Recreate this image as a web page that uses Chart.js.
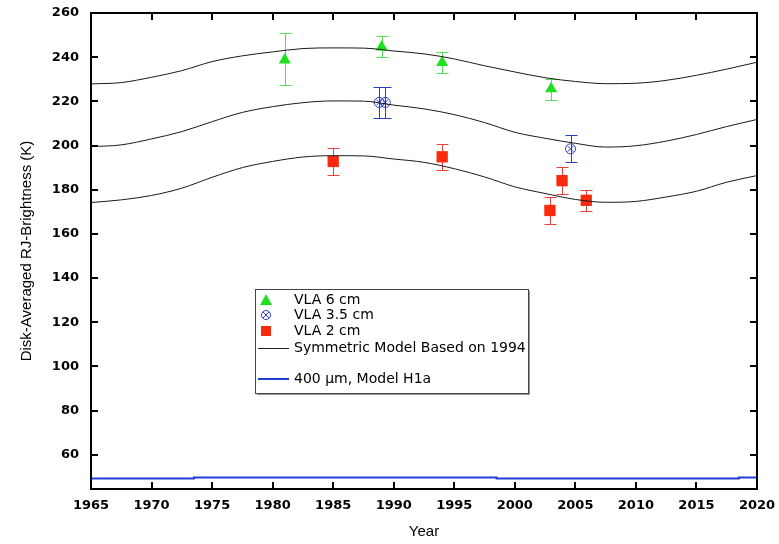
<!DOCTYPE html>
<html lang="en">
<head>
<meta charset="UTF-8">
<title>Disk-Averaged RJ-Brightness</title>
<script src="https://cdn.jsdelivr.net/npm/chart.js"></script>
<style>
  html, body { margin: 0; padding: 0; background: #fff; }
</style>
</head>
<body>
<canvas id="tbChart" width="779" height="544"></canvas>
<script>
// ---- data ----
const xTicks = [1965, 1970, 1975, 1980, 1985, 1990, 1995, 2000, 2005, 2010, 2015, 2020];
const yTicks = [60, 80, 100, 120, 140, 160, 180, 200, 220, 240, 260];

const modelYears = [1965, 1967.5, 1970, 1972.5, 1975, 1977.5, 1980, 1982.5, 1985, 1987.5, 1990, 1992.5,
                    1995, 1997.5, 2000, 2002.5, 2005, 2007.5, 2010, 2012.5, 2015, 2017.5, 2020];
const model6cm  = [227.9, 228.5, 230.9, 233.9, 238.0, 240.6, 242.4, 243.9, 244.2, 244.1, 242.8, 241.5,
                   239.2, 236.1, 233.3, 230.7, 229.0, 228.0, 228.2, 229.5, 231.8, 234.6, 237.7];
const model35cm = [199.5, 200.3, 203.0, 206.3, 210.8, 215.0, 217.6, 219.4, 220.2, 220.1, 218.3, 216.6,
                   214.0, 210.4, 206.0, 203.3, 201.0, 199.3, 199.9, 202.0, 205.0, 208.6, 211.8];
const model2cm  = [174.2, 175.4, 177.4, 180.7, 185.6, 190.0, 192.8, 194.8, 195.4, 195.3, 193.9, 192.4,
                   189.5, 185.8, 181.3, 178.3, 175.6, 174.3, 174.7, 176.7, 179.3, 183.4, 186.4];

const h1aYears  = [1965, 1973.5, 1973.5, 1998.5, 1998.5, 2018.5, 2018.5, 2020];
const h1aValues = [49.2, 49.2, 49.7, 49.7, 49.2, 49.2, 49.7, 49.7];

const vla6Years = [1981, 1989, 1994, 2003];
const vla6Vals  = [238.7, 244.6, 237.6, 225.7];
const vla6Lo    = [227.2, 239.9, 232.8, 220.8];
const vla6Hi    = [250.8, 249.4, 242.3, 230.2];

const vla35Years = [1988.8, 1989.3, 2004.6];
const vla35Vals  = [219.5, 219.5, 198.5];
const vla35Lo    = [212.5, 212.5, 192.5];
const vla35Hi    = [226.3, 226.3, 204.6];

const vla2Years = [1985, 1994, 2002.9, 2003.9, 2005.9];
const vla2Vals  = [192.8, 194.9, 170.6, 184.1, 175.2];
const vla2Lo    = [186.7, 188.8, 164.5, 178.1, 170.4];
const vla2Hi    = [198.8, 200.9, 176.6, 190.1, 179.9];

const GREEN = '#1fe01f', GREEN_BAR = '#55dd55';
const BLUE = '#2b3cc8';
const RED = '#fa2a0c', RED_BAR = '#e8403a';
const H1A = '#1f3fd8';

const pts = (xs, ys) => xs.map((x, i) => ({ x: x, y: ys[i] }));

const errorSets = [
  { years: vla6Years, lo: vla6Lo, hi: vla6Hi, color: GREEN_BAR },
  { years: vla35Years, lo: vla35Lo, hi: vla35Hi, color: BLUE },
  { years: vla2Years, lo: vla2Lo, hi: vla2Hi, color: RED_BAR }
];

const modelLine = (data) => ({
  type: 'line', data: data, borderColor: '#1a1a1a', borderWidth: 1,
  pointRadius: 0, cubicInterpolationMode: 'monotone', fill: false
});

const extras = {
  id: 'extras',
  beforeDatasetsDraw(chart) {
    const ctx = chart.ctx, xs = chart.scales.x, ys = chart.scales.y;
    errorSets.forEach(s => {
      ctx.save();
      ctx.strokeStyle = s.color;
      ctx.lineWidth = 1;
      s.years.forEach((yr, i) => {
        const px = Math.round(xs.getPixelForValue(yr)) + 0.5;
        const t = Math.round(ys.getPixelForValue(s.hi[i])) + 0.5;
        const b = Math.round(ys.getPixelForValue(s.lo[i])) + 0.5;
        ctx.beginPath();
        ctx.moveTo(px, t); ctx.lineTo(px, b);
        ctx.moveTo(px - 6, t); ctx.lineTo(px + 6, t);
        ctx.moveTo(px - 6, b); ctx.lineTo(px + 6, b);
        ctx.stroke();
      });
      ctx.restore();
    });
  },
  afterDraw(chart) {
    const ctx = chart.ctx, a = chart.chartArea, xs = chart.scales.x, ys = chart.scales.y;
    ctx.save();
    // frame
    ctx.strokeStyle = '#000';
    ctx.lineWidth = 2;
    ctx.strokeRect(a.left, a.top, a.right - a.left, a.bottom - a.top);
    // inward tick marks on all four sides
    ctx.beginPath();
    xTicks.forEach(v => {
      const px = Math.round(xs.getPixelForValue(v));
      ctx.moveTo(px, a.bottom); ctx.lineTo(px, a.bottom - 7);
      ctx.moveTo(px, a.top); ctx.lineTo(px, a.top + 7);
    });
    yTicks.forEach(v => {
      const py = Math.round(ys.getPixelForValue(v));
      ctx.moveTo(a.left, py); ctx.lineTo(a.left + 7, py);
      ctx.moveTo(a.right, py); ctx.lineTo(a.right - 7, py);
    });
    ctx.stroke();

    // legend box
    const lx = 255, ly = 289, lw = 273, lh = 104;
    ctx.fillStyle = '#9a9a9a';
    ctx.fillRect(lx + 2, ly + 2, lw, lh);
    ctx.fillStyle = '#fff';
    ctx.fillRect(lx, ly, lw, lh);
    ctx.strokeStyle = '#444';
    ctx.lineWidth = 1;
    ctx.strokeRect(lx + 0.5, ly + 0.5, lw, lh);

    const mx = 266, tx = 294;
    const rows = [300, 315, 331, 348, 379];
    // triangle
    ctx.fillStyle = GREEN;
    ctx.beginPath();
    ctx.moveTo(mx, rows[0] - 6); ctx.lineTo(mx + 6, rows[0] + 5); ctx.lineTo(mx - 6, rows[0] + 5);
    ctx.closePath(); ctx.fill();
    // circle with x
    ctx.strokeStyle = BLUE; ctx.lineWidth = 1;
    ctx.beginPath(); ctx.arc(mx, rows[1], 4.5, 0, Math.PI * 2); ctx.stroke();
    ctx.beginPath();
    ctx.moveTo(mx - 3, rows[1] - 3); ctx.lineTo(mx + 3, rows[1] + 3);
    ctx.moveTo(mx + 3, rows[1] - 3); ctx.lineTo(mx - 3, rows[1] + 3);
    ctx.stroke();
    // square
    ctx.fillStyle = RED;
    ctx.fillRect(mx - 5, rows[2] - 5, 10, 10);
    // lines
    ctx.strokeStyle = '#222'; ctx.lineWidth = 1;
    ctx.beginPath(); ctx.moveTo(258, rows[3] + 0.5); ctx.lineTo(289, rows[3] + 0.5); ctx.stroke();
    ctx.strokeStyle = H1A; ctx.lineWidth = 2;
    ctx.beginPath(); ctx.moveTo(258, rows[4]); ctx.lineTo(289, rows[4]); ctx.stroke();

    ctx.fillStyle = '#000';
    ctx.font = '14px "DejaVu Sans"';
    ctx.textBaseline = 'middle';
    ctx.textAlign = 'left';
    const labels = ['VLA 6 cm', 'VLA 3.5 cm', 'VLA 2 cm', 'Symmetric Model Based on 1994', '400 \u03BCm, Model H1a'];
    labels.forEach((t, i) => ctx.fillText(t, tx, rows[i]));
    ctx.restore();
  }
};

const chart = new Chart(document.getElementById('tbChart').getContext('2d'), {
  type: 'scatter',
  data: {
    datasets: [
      modelLine(pts(modelYears, model6cm)),
      modelLine(pts(modelYears, model35cm)),
      modelLine(pts(modelYears, model2cm)),
      {
        type: 'line', data: pts(h1aYears, h1aValues), borderColor: H1A, borderWidth: 2,
        pointRadius: 0, tension: 0, fill: false
      },
      {
        label: 'VLA 6 cm', data: pts(vla6Years, vla6Vals), pointStyle: 'triangle',
        pointRadius: 7, backgroundColor: GREEN, borderColor: GREEN, borderWidth: 0
      },
      {
        label: 'VLA 3.5 cm', data: pts(vla35Years, vla35Vals), pointStyle: 'circle',
        pointRadius: 5, backgroundColor: 'rgba(0,0,0,0)', borderColor: BLUE, borderWidth: 1
      },
      {
        data: pts(vla35Years, vla35Vals), pointStyle: 'crossRot',
        pointRadius: 4, borderColor: BLUE, borderWidth: 1
      },
      {
        label: 'VLA 2 cm', data: pts(vla2Years, vla2Vals), pointStyle: 'rect',
        pointRadius: 8, backgroundColor: RED, borderColor: RED, borderWidth: 0
      }
    ]
  },
  options: {
    responsive: false,
    animation: false,
    layout: { padding: { left: 0, top: 13, right: 22, bottom: 0 } },
    plugins: { legend: { display: false }, tooltip: { enabled: false } },
    scales: {
      x: {
        type: 'linear', min: 1965, max: 2020,
        afterFit: s => { s.height = 55; s.paddingLeft = 0; s.paddingRight = 0; },
        afterBuildTicks: s => { s.ticks = xTicks.map(v => ({ value: v })); },
        grid: { display: false },
        border: { display: false },
        ticks: {
          color: '#000', font: { family: 'DejaVu Sans', size: 13, weight: 'bold' },
          padding: 1, maxRotation: 0, callback: v => String(v)
        },
        title: {
          display: true, text: 'Year', color: '#000',
          font: { family: 'Liberation Sans', size: 15 }, padding: { top: 0, bottom: 3 }
        }
      },
      y: {
        min: 44.5, max: 260,
        afterFit: s => { s.width = 91; },
        afterBuildTicks: s => { s.ticks = yTicks.map(v => ({ value: v })); },
        grid: { display: false },
        border: { display: false },
        ticks: { color: '#000', font: { family: 'DejaVu Sans', size: 13, weight: 'bold' }, padding: 4 },
        title: {
          display: true, text: 'Disk-Averaged RJ-Brightness (K)', color: '#000',
          font: { family: 'Liberation Sans', size: 15 }, padding: { top: 18, bottom: 0 }
        }
      }
    }
  },
  plugins: [extras]
});
</script>
</body>
</html>
